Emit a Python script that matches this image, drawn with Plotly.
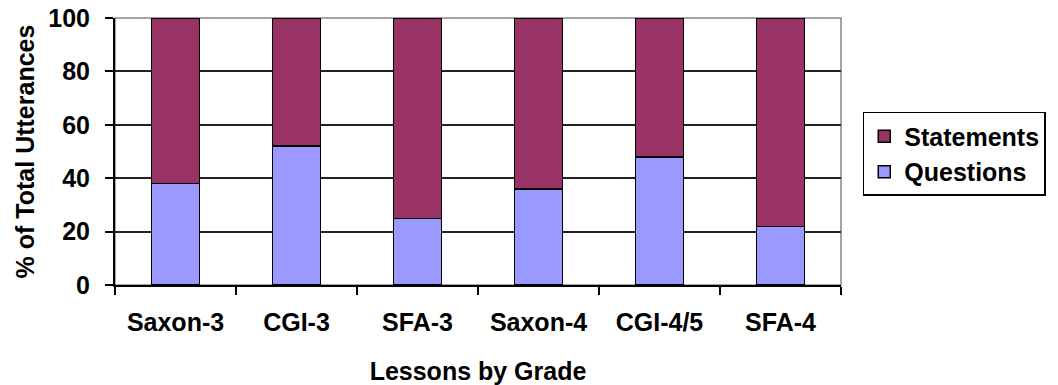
import plotly.graph_objects as go

categories = ["Saxon-3", "CGI-3", "SFA-3", "Saxon-4", "CGI-4/5", "SFA-4"]
questions = [38, 52, 25, 36, 48, 22]
statements = [62, 48, 75, 64, 52, 78]

font = "Liberation Sans, Arial, sans-serif"

fig = go.Figure()
fig.add_trace(go.Bar(x=categories, y=questions, name="Questions", legendrank=2,
                     marker=dict(color="#9999FF", line=dict(color="black", width=1.5))))
fig.add_trace(go.Bar(x=categories, y=statements, name="Statements", legendrank=1,
                     marker=dict(color="#993366", line=dict(color="black", width=1.5))))

fig.update_layout(
    width=1058, height=385,
    barmode="stack", bargap=0.607,
    plot_bgcolor="white", paper_bgcolor="white",
    margin=dict(l=115, r=211, t=18, b=100),
    font=dict(family=font, size=25, color="black"),
    legend=dict(x=1.03, y=0.648, xanchor="left", yanchor="top",
                traceorder="normal", bordercolor="black", borderwidth=1.5,
                font=dict(family=font, size=25, color="black", weight="bold"),
                itemwidth=30),
    shapes=[dict(type="rect", xref="paper", yref="paper", x0=0, x1=1, y0=0, y1=1,
                 line=dict(color="#888888", width=1.5), layer="below")],
)
fig.update_xaxes(
    automargin=False,
    showline=True, linecolor="black", linewidth=2,
    ticks="outside", tickson="boundaries", ticklen=8, tickwidth=1.5, tickcolor="black",
    ticklabelstandoff=14,
    tickfont=dict(family=font, size=25, weight="bold"),
    title=dict(text="Lessons by Grade", font=dict(family=font, size=25, weight="bold"), standoff=28),
    showgrid=False,
)
fig.update_yaxes(
    automargin=False,
    range=[0, 100], tickvals=[0, 20, 40, 60, 80, 100],
    showline=True, linecolor="black", linewidth=2,
    ticks="outside", ticklen=8, tickwidth=1.5, tickcolor="black",
    ticklabelstandoff=10,
    showgrid=True, gridcolor="#222222", gridwidth=1.5,
    tickfont=dict(family=font, size=25, weight="bold"),
    title=dict(text="% of Total Utterances", font=dict(family=font, size=25, weight="bold"), standoff=7),
    zeroline=False,
)

fig.write_html("out.html", config={"displayModeBar": False},
               post_script="document.body.style.margin='0';")
